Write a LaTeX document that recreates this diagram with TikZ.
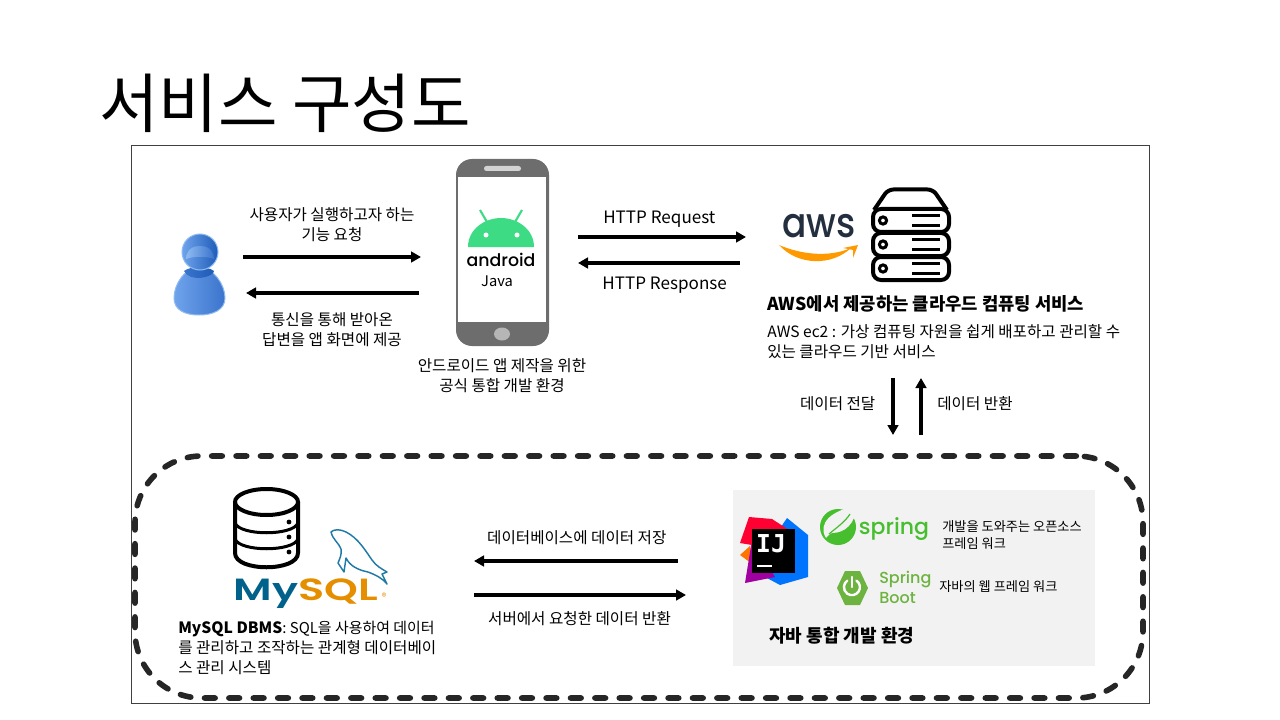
\documentclass[tikz,border=0pt]{standalone}
\usepackage{fontspec}
\usepackage{xcolor}
\usepackage{tikz}
\usetikzlibrary{arrows.meta,fit}
\setmainfont{Noto Sans CJK KR}
\newfontfamily\logomed{Poppins Medium}
\newfontfamily\logosemi{Poppins SemiBold}
\newfontfamily\codefont{DejaVu Sans Mono}
\definecolor{phonegray}{HTML}{6D6D6D}
\definecolor{droidgreen}{HTML}{3DDC84}
\definecolor{awsink}{HTML}{232F3E}
\definecolor{awsorange}{HTML}{FF9900}
\definecolor{sqlblue}{HTML}{00618A}
\definecolor{sqlorange}{HTML}{E48E00}
\definecolor{fishblue}{HTML}{1F7AA5}
\definecolor{springgreen}{HTML}{46BE2E}
\definecolor{bootgreen}{HTML}{6DB33F}
\definecolor{panelgray}{HTML}{F2F2F2}
\definecolor{dashgray}{HTML}{262626}
\definecolor{personlight}{HTML}{8FBBF0}
\definecolor{personmid}{HTML}{6FA3EC}
\definecolor{persondeep}{HTML}{3B74CC}
\definecolor{persondark}{HTML}{1E5CB8}
\begin{document}
\begin{tikzpicture}[x=0.75pt,y=-0.75pt,
    iconbox/.style={inner sep=0pt,outer sep=0pt},
    flow/.style={line width=2.5pt,-{Triangle[length=7.5pt,width=8pt]}},
    lbl/.style={font=\fontsize{11.7}{15}\selectfont,align=center,inner sep=0pt},
    lblhttp/.style={font=\fontsize{12.8}{15}\selectfont,inner sep=0pt},
    lblleft/.style={lbl,align=left,anchor=west},
    small/.style={font=\fontsize{9.9}{12.75}\selectfont,align=left,anchor=west,inner sep=0pt},
    rack/.style={draw=black,line width=3pt,rounded corners=6pt,fill=white}]
    \useasboundingbox (0,0) rectangle (1280,720);

    \node[anchor=west,inner sep=0pt,font=\fontsize{48.5}{56}\selectfont] (title) at (99,103) {서비스 구성도};
    \node[iconbox,draw=black!75,line width=0.75pt,fit={(131,146) (1149,703)}] (frame) {};
    \node[iconbox,fill=panelgray,fit={(733,490) (1095,666)}] (ide) {};
    \node[iconbox,draw=dashgray,line width=4.2pt,line cap=round,dash pattern=on 8pt off 10.3pt,rounded corners=50pt,fit={(135,456) (1143,698)}] (backend) {};

    \node[iconbox,fit={(157,236) (243,316)}] (user) {};
    \node[iconbox,fit={(421,159) (578,346)}] (phone) {};
    \node[iconbox,fit={(746,188) (1120,378)}] (aws) {};
    \node[iconbox,fit={(233,488) (474,607)}] (db) {};

    % user
    \shade[left color=personmid,right color=persondeep,draw=personlight,line width=0.75pt]
        (199,266) .. controls (185,268) and (174,284) .. (174,298) .. controls (174,310) and (185,315) .. (199,315)
        .. controls (213,315) and (225,310) .. (225,298) .. controls (225,284) and (213,268) .. (199,266) -- cycle;
    \shade[left color=persondeep,right color=persondark] (184,271) .. controls (190,266) and (208,266) .. (214,271) .. controls (214,277) and (190,283) .. (184,271) -- cycle;
    \shade[left color=personmid,right color=persondark,draw=personlight,line width=0.75pt] (200,252) circle[radius=18];
    \shade[left color=personlight,right color=persondeep] (200,246) .. controls (188,246) and (186,255) .. (186,259) .. controls (194,256) and (206,256) .. (214,259) .. controls (214,255) and (212,246) .. (200,246) -- cycle;

    % phone
    \fill[phonegray,rounded corners=12pt] (456,159) rectangle (549,346);
    \fill[white] (458,177) rectangle (546,322);
    \fill[white!70!phonegray,rounded corners=1.8pt] (484,166) rectangle (521,171);
    \fill[white!50!phonegray] (502,334) ellipse[x radius=8,y radius=6.5];
    \draw[droidgreen,line width=1.6pt] (480,210) -- (487,222) (522,210) -- (515,222);
    \fill[droidgreen] (468,247) .. controls (468,229) and (485,218) .. (501,218) .. controls (517,218) and (534,229) .. (534,247) -- cycle;
    \fill[white] (486,235) circle[radius=2.5] (517,235) circle[radius=2.5];
    \node[anchor=base,inner sep=0pt,font=\logomed\fontsize{13}{15}\selectfont] (droid) at (501,266) {android};
    \node[lbl,font=\fontsize{11}{13}\selectfont] (java) at (497,281) {Java};

    % aws
    \node[anchor=base,inner sep=0pt,yscale=1.15,text=awsink,font=\logomed\fontsize{27}{30}\selectfont] (awsword) at (819,238) {aws};
    \fill[awsorange] (779,245) .. controls (800,254) and (828,258) .. (851,248) .. controls (832,266) and (798,266) .. (779,245) -- cycle;
    \fill[awsorange] (843,248) -- (858,245) -- (853,258) -- (853,250) -- cycle;
    \draw[black,line width=3pt,line join=round,rounded corners=4pt] (874,210) -- (888,189.5) -- (933,189.5) -- (947,210);
    \foreach \ytop in {209,233,257} {
        \draw[rack] (873,\ytop) rectangle (949,\ytop+23);
        \draw[black,line width=2.25pt] (883,\ytop+11.5) circle[radius=3.6];
        \draw[black,line width=2.25pt] (912,\ytop+6.5) -- (940,\ytop+6.5) (912,\ytop+16.5) -- (940,\ytop+16.5);
    }

    % mysql
    \draw[black,line width=3pt,fill=white] (235,502) -- (235,553) .. controls (235,572) and (298,572) .. (298,553) -- (298,502);
    \draw[black,line width=3pt] (266.5,502) ellipse[x radius=31.5,y radius=13];
    \draw[black,line width=2.25pt] (235,523) .. controls (240,536) and (293,536) .. (298,523) (235,539) .. controls (240,552) and (293,552) .. (298,539);
    \fill[black] (289,522) circle[radius=2.4] (289,537) circle[radius=2.4] (289,552) circle[radius=2.4];
    \draw[fishblue,line width=1.1pt,line join=round] (331,532) .. controls (334,529) and (340,529) .. (346,532) .. controls (358,538) and (365,550) .. (372,560)
        .. controls (376,566) and (382,569) .. (387,572) -- (382,574) -- (387,584) .. controls (382,578) and (376,575) .. (368,572)
        .. controls (358,570) and (350,566) .. (346,558) -- (344,572) -- (338,563) .. controls (340,558) and (342,554) .. (341,549)
        .. controls (339,543) and (333,540) .. (331,532) -- cycle;
    \node[anchor=base,inner sep=0pt,xscale=1.4,font=\logosemi\fontsize{23}{26}\selectfont] (sqlword) at (306,600) {\textcolor{sqlblue}{My}\textcolor{sqlorange}{SQL}};
    \node[inner sep=0pt,text=sqlorange,font=\fontsize{7}{8}\selectfont] (sqlmark) at (384,597) {®};

    % intellij
    \fill[blue!55!cyan] (787,518) -- (808,535) -- (808,577) -- (780,585) -- (752,570) -- cycle;
    \fill[orange!90!red] (740,555) -- (750,546) -- (755,566) -- cycle;
    \fill[violet!75!magenta] (745,583) -- (752,540) -- (775,577) -- cycle;
    \fill[red!80!magenta] (740,543) -- (749,517) -- (772,519) -- (792,532) -- (752,545) -- cycle;
    \fill[black] (752,529) rectangle (795,573);
    \node[inner sep=0pt,text=white,font=\codefont\bfseries\fontsize{18.5}{20}\selectfont] (ijword) at (771,544) {IJ};
    \draw[white,line width=1.2pt] (757,566) -- (772,566);

    % spring
    \fill[springgreen] (838,527) circle[radius=18];
    \fill[panelgray] (826,538) .. controls (817,523) and (832,510) .. (857,506) .. controls (855,524) and (845,533) .. (832,533) .. controls (829,534) and (828,536) .. (826,538) -- cycle;
    \draw[springgreen,line width=0.9pt] (829,534) .. controls (836,528) and (845,522) .. (850,514);
    \node[anchor=base,inner sep=0pt,text=springgreen,font=\logomed\fontsize{16.5}{19}\selectfont] (springword) at (894,534) {spring};
    \fill[bootgreen] (837,588) -- (845,571) -- (860,571) -- (868,588) -- (860,605) -- (845,605) -- cycle;
    \draw[white,line width=1.8pt,line cap=round] (856.5,580.6) arc[start angle=-55,end angle=235,radius=8];
    \draw[white,line width=1.8pt,line cap=round] (852,577) -- (852,587);
    \node[anchor=west,inner sep=0pt,align=left,text=bootgreen,font=\logomed\fontsize{12}{15}\selectfont] (bootword) at (879,587) {Spring\\Boot};

    % connectors
    \draw[flow] (user.east |- 0,257) -- node[lbl,above=10pt] (ask) {사용자가 실행하고자 하는\\기능 요청} (phone.west |- 0,257);
    \draw[flow,shorten <=1.5pt,shorten >=2.25pt] (phone.west |- 0,293) -- node[lbl,below=13.5pt] (answer) {통신을 통해 받아온\\답변을 앱 화면에 제공} (user.east |- 0,293);
    \draw[flow] (phone.east |- 0,237) -- node[lblhttp,above=6pt,xshift=-2pt] (req) {HTTP Request} (aws.west |- 0,237);
    \draw[flow,shorten <=4.5pt] (aws.west |- 0,263) -- node[lblhttp,below=9.5pt,xshift=2pt] (res) {HTTP Response} (phone.east |- 0,263);
    \draw[flow,shorten >=15.75pt] (aws.south -| 893,0) -- node[lbl,left=12pt,pos=0.333] (send) {데이터 전달} (backend.north -| 893,0);
    \draw[flow,shorten <=15.75pt] (backend.north -| 921,0) -- node[lbl,right=11pt,pos=0.667] (back) {데이터 반환} (aws.south -| 921,0);
    \draw[flow,shorten <=41.25pt] (ide.west |- 0,561) -- node[lbl,above=11pt,xshift=-20pt] (store) {데이터베이스에 데이터 저장} (db.east |- 0,561);
    \draw[flow,shorten >=35.25pt] (db.east |- 0,595) -- node[lbl,below=11pt,xshift=-18pt] (fetch) {서버에서 요청한 데이터 반환} (ide.west |- 0,595);

    % captions
    \node[lbl] (droidcap) at (502,376) {안드로이드 앱 제작을 위한\\공식 통합 개발 환경};
    \node[anchor=west,inner sep=0pt,font=\bfseries\fontsize{13.3}{16}\selectfont] (awshead) at (767,304) {AWS에서 제공하는 클라우드 컴퓨팅 서비스};
    \node[lblleft] (awscap) at (767,342) {AWS ec2 : 가상 컴퓨팅 자원을 쉽게 배포하고 관리할 수\\있는 클라우드 기반 서비스};
    \node[lblleft] (dbcap) at (178,648) {\textbf{MySQL DBMS}{\fontsize{11.2}{15}\selectfont: SQL을 사용하여 데이터}\\를 관리하고 조작하는 관계형 데이터베이\\스 관리 시스템};
    \node[small] (springcap) at (942,535.5) {개발을 도와주는 오픈소스\\프레임 워크};
    \node[small] (bootcap) at (939,587) {자바의 웹 프레임 워크};
    \node[anchor=west,inner sep=0pt,font=\bfseries\fontsize{13.5}{16}\selectfont] (idecap) at (769,636) {자바 통합 개발 환경};
\end{tikzpicture}
\end{document}
